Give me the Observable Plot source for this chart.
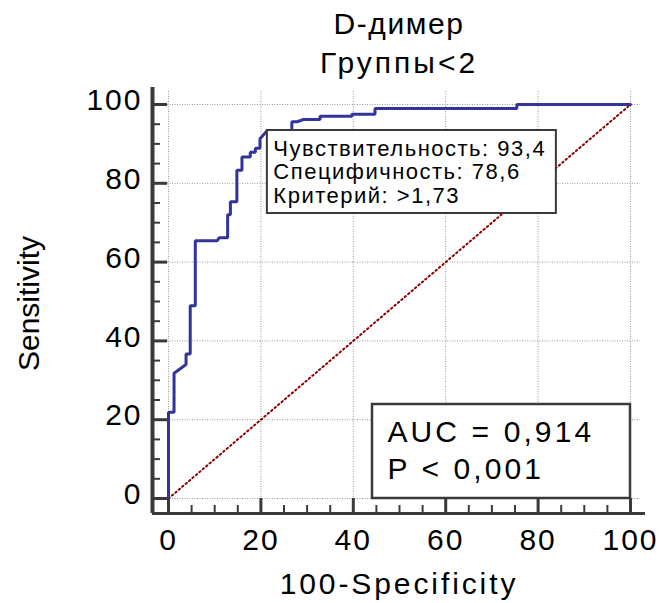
<!DOCTYPE html>
<html>
<head>
<meta charset="utf-8">
<script src="https://cdn.jsdelivr.net/npm/d3@7"></script>
<script src="https://cdn.jsdelivr.net/npm/@observablehq/plot@0.6"></script>
<style>
  html, body { margin: 0; padding: 0; background: #fff; }
  #chart svg { display: block; }
</style>
</head>
<body>
<div id="chart"></div>
<script>
// ---- data ----
const titleLines = ["D-димер", "Группы<2"];
const xAxisTitle = "100-Specificity";
const yAxisTitle = "Sensitivity";
const xDomain = [0, 100];
const yDomain = [0, 100];
const xMajorTicks = [0, 20, 40, 60, 80, 100];
const xMinorTicks = [5, 10, 15, 25, 30, 35, 45, 50, 55, 65, 70, 75, 85, 90, 95];
const yMajorTicks = [0, 20, 40, 60, 80, 100];
const yMinorTicks = [5, 10, 15, 25, 30, 35, 45, 50, 55, 65, 70, 75, 85, 90, 95];

// ROC curve corner points (100-Specificity, Sensitivity)
const rocFpr = [0, 0, 1.2, 1.2, 3.8, 3.8, 4.7, 4.7, 5.8, 5.8, 10.5, 11.0, 12.8, 12.8, 13.4, 13.4, 14.8, 14.8, 15.9, 15.9, 17.7, 17.7, 18.8, 18.8, 19.8, 19.8, 21.4, 26.7, 26.7, 27.8, 29.2, 32.8, 32.8, 39.7, 39.7, 44.7, 44.7, 75.4, 75.4, 100];
const rocTpr = [0, 21.9, 21.9, 31.8, 34.0, 36.7, 36.7, 48.9, 48.9, 65.4, 65.4, 66.2, 66.2, 72.0, 72.0, 75.3, 75.3, 83.3, 83.3, 86.7, 86.7, 87.9, 87.9, 88.9, 88.9, 91.3, 93.4, 93.4, 95.6, 95.6, 96.2, 96.2, 97.0, 97.0, 97.5, 97.5, 99.0, 99.0, 100, 100];

// reference (chance) diagonal
const refFpr = [0, 100];
const refTpr = [0, 100];

// optimal criterion point
const criterionFpr = [21.4];   // 100 - 78.6
const criterionTpr = [93.4];
const infoLines = ["Чувствительность: 93,4", "Специфичность: 78,6", "Критерий: >1,73"];
const aucLines = ["AUC = 0,914", "P < 0,001"];

// ---- build ----
const roc = rocFpr.map((x, i) => ({x, y: rocTpr[i]}));
const ref = refFpr.map((x, i) => ({x, y: refTpr[i]}));
const crit = criterionFpr.map((x, i) => ({x, y: criterionTpr[i]}));
const corner = [{x: xDomain[1], y: yDomain[0]}];

const axisColor = "#3a3a3a";
const gridColor = "#999999";
const tag = (name) => () => name;

const chart = Plot.plot({
  width: 659,
  height: 603,
  marginLeft: 152,
  marginRight: 14,
  marginTop: 87,
  marginBottom: 90,
  style: {fontFamily: "'Liberation Sans', Arial, sans-serif", color: "#000", background: "#fff"},
  x: {domain: xDomain, insetLeft: 16, insetRight: 15},
  y: {domain: yDomain, insetTop: 17, insetBottom: 15},
  marks: [
    // grid
    Plot.ruleX(xMajorTicks, {x: d => d, stroke: gridColor, strokeWidth: 1, strokeDasharray: "1,1.5", insetTop: 4}),
    Plot.ruleY(yMajorTicks, {y: d => d, stroke: gridColor, strokeWidth: 1, strokeDasharray: "1,1.5", insetRight: 5}),
    // reference diagonal
    Plot.line(ref, {x: "x", y: "y", stroke: "#8b0000", strokeWidth: 2, strokeDasharray: "1.5,3"}),
    // ROC curve
    Plot.line(roc, {x: "x", y: "y", stroke: "#333399", strokeWidth: 3, strokeLinejoin: "miter"}),
    // axis lines (offset from the data area)
    Plot.ruleY(yDomain.slice(0, 1), {y: d => d, dy: 15, stroke: axisColor, strokeWidth: 3}),
    Plot.ruleX(xDomain.slice(0, 1), {x: d => d, dx: -16, stroke: axisColor, strokeWidth: 4}),
    // ticks pointing inward
    Plot.axisX(xMajorTicks, {tickSize: -15, tickFormat: () => "", stroke: axisColor, strokeWidth: 3, label: null}),
    Plot.axisX(xMinorTicks, {tickSize: -8, tickFormat: () => "", stroke: axisColor, strokeWidth: 2, label: null}),
    Plot.axisY(yMajorTicks, {tickSize: -15, tickFormat: () => "", stroke: axisColor, strokeWidth: 3, label: null}),
    Plot.axisY(yMinorTicks, {tickSize: -8, tickFormat: () => "", stroke: axisColor, strokeWidth: 2, label: null}),
    // tick labels
    Plot.axisX(xMajorTicks, {tickSize: 0, tickPadding: 15, fontSize: 30, label: null}),
    Plot.axisY(yMajorTicks, {tickSize: 0, tickPadding: 10, fontSize: 30, dy: -4, label: null}),
    // info box at criterion point
    Plot.rect(crit, {x1: "x", x2: "x", y1: "y", y2: "y", insetRight: -289, insetBottom: -83, fill: "white", stroke: axisColor, strokeWidth: 2}),
    Plot.text(crit, {x: "x", y: "y", text: () => infoLines.join("\n"), textAnchor: "start", lineAnchor: "top", lineHeight: 1.06, fontSize: 22, dx: 6, dy: 9, fill: "#000", ariaLabel: tag("info")}),
    // AUC box at lower right
    Plot.rect(corner, {x1: "x", x2: "x", y1: "y", y2: "y", insetLeft: -258, insetTop: -94, fill: "white", stroke: axisColor, strokeWidth: 2.5}),
    Plot.text(corner, {x: "x", y: "y", text: () => aucLines.join("\n"), textAnchor: "start", lineAnchor: "bottom", lineHeight: 1.21, fontSize: 30, dx: -243, dy: -20, fill: "#000", ariaLabel: tag("auc")}),
    // titles
    Plot.text([titleLines[0]], {frameAnchor: "top", text: d => d, textAnchor: "middle", lineAnchor: "bottom", fontSize: 30, dx: 0, dy: -54, fill: "#000", ariaLabel: tag("title1")}),
    Plot.text([titleLines[1]], {frameAnchor: "top", text: d => d, textAnchor: "middle", lineAnchor: "bottom", fontSize: 30, dx: 0, dy: -15, fill: "#000", ariaLabel: tag("title2")}),
    Plot.text([xAxisTitle], {frameAnchor: "bottom", text: d => d, textAnchor: "middle", lineAnchor: "bottom", fontSize: 30, dx: 0, dy: 80, fill: "#000", ariaLabel: tag("xtitle")}),
    Plot.text([yAxisTitle], {frameAnchor: "left", text: d => d, textAnchor: "middle", rotate: -90, lineAnchor: "bottom", fontSize: 30, dx: -114, dy: 3, fill: "#000", ariaLabel: tag("ytitle")})
  ]
});

document.getElementById("chart").appendChild(chart);

// wide glyph spacing as in the reference rendering
const sel = d3.select(chart);
function spacing(label, px) { sel.selectAll(`[aria-label="${label}"]`).attr("letter-spacing", px); }
spacing("x-axis tick label", 2);
spacing("y-axis tick label", 2);
spacing("info", 1.5);
spacing("auc", 3.1);
spacing("title1", 1.6);
spacing("title2", 3);
spacing("xtitle", 2.9);
</script>
</body>
</html>
